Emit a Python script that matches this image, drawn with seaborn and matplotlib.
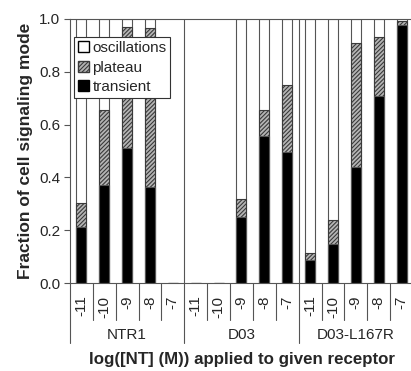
import seaborn as sns
import pandas as pd
import matplotlib.pyplot as plt
import matplotlib.transforms as mtransforms
from matplotlib.patches import Patch

# data
receptors = ["NTR1", "D03", "D03-L167R"]
concentrations = ["-11", "-10", "-9", "-8", "-7"]
transient = [0.213, 0.371, 0.510, 0.365, 0.0,
             0.0, 0.0, 0.250, 0.558, 0.498,
             0.086, 0.149, 0.438, 0.707, 0.977]
plateau = [0.089, 0.284, 0.460, 0.600, 0.0,
           0.0, 0.0, 0.068, 0.098, 0.250,
           0.028, 0.091, 0.472, 0.225, 0.017]
oscillations = [0.698, 0.345, 0.030, 0.035, 0.0,
                0.0, 0.0, 0.682, 0.344, 0.252,
                0.886, 0.760, 0.090, 0.068, 0.006]

slots = [f"{r}|{c}" for r in receptors for c in concentrations]
df = pd.DataFrame({"slot": slots, "transient": transient,
                   "plateau": plateau, "oscillations": oscillations})
df["top_plateau"] = df["transient"] + df["plateau"]
df["top_osc"] = df["top_plateau"] + df["oscillations"]

sns.set_style("ticks")
plt.rcParams["font.family"] = ["Liberation Sans", "DejaVu Sans"]
plt.rcParams["hatch.linewidth"] = 0.8

fig = plt.figure(figsize=(4.11, 3.71), dpi=100)
ax = fig.add_axes([0.170, 0.237, 0.835, 0.712])

edge = "#555555"
hatch_col = "#3a3a3a"
plateau_fill = "#b4b4b4"
w = 0.44
sns.barplot(data=df, x="slot", y="top_osc", order=slots, color="white",
            edgecolor=edge, linewidth=0.8, width=w, errorbar=None, ax=ax)
n0 = len(ax.patches)
sns.barplot(data=df, x="slot", y="top_plateau", order=slots, color=plateau_fill,
            edgecolor=hatch_col, linewidth=0.8, width=w, errorbar=None, ax=ax)
for p in ax.patches[n0:]:
    p.set_hatch("////////")
    p.set_facecolor(plateau_fill)
sns.barplot(data=df, x="slot", y="transient", order=slots, color="black",
            edgecolor=edge, linewidth=0.8, width=w, errorbar=None, ax=ax)

ax.set_xlim(-0.5, len(slots) - 0.5)
ax.set_ylim(0, 1.0)
yt = [0, 0.2, 0.4, 0.6, 0.8, 1.0]
ax.set_yticks(yt)
ax.set_yticklabels([f"{v:.1f}" for v in yt], fontsize=11)
ax.set_xticks(range(len(slots)))
ax.set_xticklabels(concentrations * len(receptors), rotation=90, fontsize=11)
ax.tick_params(axis="x", length=0, pad=9)
ax.tick_params(axis="y", length=4, color=edge, width=0.8, pad=3)
ax.set_xlabel("")
ax.set_ylabel("Fraction of cell signaling mode", fontsize=12.5,
              fontweight="bold", labelpad=4)

for s in ax.spines.values():
    s.set_color(edge)
    s.set_linewidth(0.8)

# category separators below the axis
trans = mtransforms.blended_transform_factory(ax.transData, ax.transAxes)
for k in range(len(slots) + 1):
    x = k - 0.5
    bottom = -0.227 if k % len(concentrations) == 0 else -0.14
    ax.plot([x, x], [0, bottom], color=edge, lw=0.8, transform=trans, clip_on=False)
    if k % len(concentrations) == 0 and 0 < k < len(slots):
        ax.plot([x, x], [0, 1], color=edge, lw=0.8, transform=trans)

for i, r in enumerate(receptors):
    center = i * len(concentrations) + (len(concentrations) - 1) / 2
    ax.text(center, -0.197, r, transform=trans, ha="center", va="center", fontsize=11)

fig.text(0.589, 0.030, "log([NT] (M)) applied to given receptor", ha="center",
         va="center", fontsize=12.2, fontweight="bold")

handles = [Patch(facecolor="white", edgecolor="black", label="oscillations"),
           Patch(facecolor=plateau_fill, edgecolor=hatch_col, hatch="////////", label="plateau"),
           Patch(facecolor="black", edgecolor="black", label="transient")]
leg = ax.legend(handles=handles, loc="upper left", bbox_to_anchor=(0.012, 0.93),
                fontsize=11, frameon=True, fancybox=False, framealpha=1,
                handlelength=0.75, handleheight=0.75, handletextpad=0.2,
                borderpad=0.25, labelspacing=0.35, borderaxespad=0)
leg.get_frame().set_edgecolor("#333333")
leg.get_frame().set_linewidth(0.8)

fig.savefig("out.png", dpi=100)
